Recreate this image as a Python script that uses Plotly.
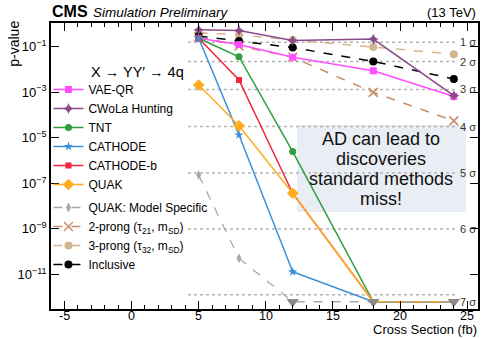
import math
import plotly.graph_objects as go

# ---------------- data ----------------
xs = [5, 8, 12, 18, 24]
FLOOR = 6.3e-13   # points at the plot floor (upper limits)

vae_qr    = [0.24, 0.126, 0.035, 8.9e-3, 6.6e-4]
cwola     = [0.56, 0.52, 0.19, 0.22, 7.2e-4]
tnt       = [0.24, 0.037, 2.5e-6, FLOOR, FLOOR]
cathode   = [0.24, 1.35e-5, 1.3e-11, FLOOR, FLOOR]
cathode_b = [0.24, 3.5e-3, 3.7e-8, FLOOR, FLOOR]
quak      = [2.1e-3, 3.4e-5, 3.7e-8, FLOOR, FLOOR]
quak_ms   = [2.3e-7, 5.1e-11, FLOOR, FLOOR, FLOOR]
prong2    = [0.28, 0.11, 0.035, 1.0e-3, 5.6e-5]
prong3    = [0.42, 0.34, 0.20, 0.10, 0.048]
inclusive = [0.30, 0.18, 0.093, 0.023, 3.9e-3]

sigma_labels = ["1 σ", "2 σ", "3 σ", "4 σ", "5 σ", "6 σ", "7 σ"]
sigma_p = [1.587e-1, 2.275e-2, 1.35e-3, 3.167e-5, 2.867e-7, 9.866e-10, 1.28e-12]
sigma_x = [4.2, 24.1]

x_ticks = [-5, 0, 5, 10, 15, 20, 25]
x_ticktext = ["-5", "0", "5", "10", "15", "20", "25"]
y_ticks = [1e-1, 1e-3, 1e-5, 1e-7, 1e-9, 1e-11]
y_ticktext = ["10<sup>−1</sup>", "10<sup>−3</sup>", "10<sup>−5</sup>",
              "10<sup>−7</sup>", "10<sup>−9</sup>", "10<sup>−11</sup>"]

box_lines = ["AD can lead to", "discoveries", "standard methods", "miss!"]

FONT = "Liberation Sans, Arial, sans-serif"
fig = go.Figure()

# sigma reference lines
for p in sigma_p:
    fig.add_trace(go.Scatter(x=sigma_x, y=[p, p], mode="lines",
                             line=dict(color="#b4b4b4", width=1.5, dash="dot"),
                             showlegend=False, hoverinfo="skip"))


def add_series(name, vals, col, sym, sz, dash, lg, rk, width=1.5):
    k = len([v for v in vals if v != FLOOR])
    # part with visible markers
    fig.add_trace(go.Scatter(
        x=xs[:k], y=vals[:k], mode="lines+markers", name=name,
        line=dict(color=col, width=width, dash=dash),
        marker=dict(color=col, symbol=sym, size=sz,
                    line=dict(color=col, width=1.5 if sym == "x-thin" else 0)),
        legend=lg, legendrank=rk))
    # continuation down to floor (limits)
    if k < len(vals):
        fig.add_trace(go.Scatter(
            x=xs[k - 1:], y=vals[k - 1:], mode="lines",
            line=dict(color=col, width=width, dash=dash),
            showlegend=False, hoverinfo="skip"))


add_series("3-prong (τ<sub>32</sub>, m<sub>SD</sub>)", prong3, "#d4b48e", "circle", 8, "dash", "legend2", 9)
add_series("2-prong (τ<sub>21</sub>, m<sub>SD</sub>)", prong2, "#c98e68", "x-thin", 9, "dash", "legend2", 8)
add_series("Inclusive", inclusive, "#000000", "circle", 8, "dash", "legend2", 10)
add_series("VAE-QR", vae_qr, "#ff4dff", "square", 7, "solid", "legend", 1)
add_series("CWoLa Hunting", cwola, "#8a4a8a", "star-diamond", 8, "solid", "legend", 2)
add_series("TNT", tnt, "#2f9e3a", "circle", 7, "solid", "legend", 3)
add_series("CATHODE-b", cathode_b, "#f0263a", "square", 6, "solid", "legend", 5)
add_series("CATHODE", cathode, "#3b8fd6", "star", 7, "solid", "legend", 4)
add_series("QUAK", quak, "#ffad1f", "diamond", 9, "solid", "legend", 6)
add_series("QUAK: Model Specific", quak_ms, "#a8a8a8", "diamond-tall", 7, "dash", "legend2", 7, width=1.3)

# upper-limit triangles at the floor
lim_x = [x for x, v in zip(xs, quak_ms) if v == FLOOR]
lim_y = [v for v in quak_ms if v == FLOOR]
fig.add_trace(go.Scatter(x=lim_x, y=lim_y, mode="markers",
                         marker=dict(color="#8a8a8a", symbol="triangle-down", size=11),
                         showlegend=False, hoverinfo="skip"))

# sigma labels
for lab, p in zip(sigma_labels, sigma_p):
    fig.add_annotation(x=24.42, y=math.log10(p), xref="x", yref="y", text=lab,
                       showarrow=False, xanchor="left", yanchor="middle",
                       yshift=-7 if lab == "7 σ" else 0, borderpad=0,
                       font=dict(size=11, color="#333333", family=FONT))

# message box
fig.add_shape(type="rect", xref="paper", yref="paper", x0=0.576, x1=0.972,
              y0=0.339, y1=0.643, fillcolor="#e9edf4", line=dict(width=0),
              layer="below")
for i, line in enumerate(box_lines):
    ypx = 139 + 20 * i
    fig.add_annotation(xref="paper", yref="paper", x=0.774, y=(309 - ypx) / 286,
                       text=line, showarrow=False, xanchor="center", yanchor="middle",
                       font=dict(size=18, color="#111111", family=FONT))

# legend header
fig.add_annotation(xref="paper", yref="paper", x=(89 - 51) / 429, y=(309 - 72) / 286,
                   text="X → YY′ → 4q", showarrow=False, xanchor="left",
                   yanchor="middle", font=dict(size=14.5, color="black", family=FONT))

# header texts
fig.add_annotation(xref="paper", yref="paper", x=0.0, y=1.0, yshift=2, borderpad=0,
                   text="<b>CMS</b>", showarrow=False, xanchor="left", yanchor="bottom",
                   font=dict(size=16, color="black", family=FONT))
fig.add_annotation(xref="paper", yref="paper", x=(92 - 51) / 429, y=1.0, yshift=2,
                   borderpad=0,
                   text="<i>Simulation Preliminary</i>", showarrow=False,
                   xanchor="left", yanchor="bottom",
                   font=dict(size=13.5, color="black", family=FONT))
fig.add_annotation(xref="paper", yref="paper", x=1.0, y=1.0, yshift=1,
                   text="(13 TeV)", showarrow=False, xanchor="right", yanchor="bottom",
                   font=dict(size=13, color="black", family=FONT))

# x tick labels
for v, t in zip(x_ticks, x_ticktext):
    fig.add_annotation(xref="x", yref="paper", x=v, y=(309 - 315.5) / 286,
                       text=t, showarrow=False, xanchor="center", yanchor="middle",
                       borderpad=0,
                       font=dict(size=12.5, color="black", family=FONT))

# axis titles
fig.add_annotation(xref="paper", yref="paper", x=-0.087, y=0.927,
                   text="p-value", textangle=-90, showarrow=False,
                   xanchor="center", yanchor="middle",
                   font=dict(size=14, color="black", family=FONT))
fig.add_annotation(xref="paper", yref="paper", x=1.0, y=(309 - 329.8) / 286,
                   text="Cross Section (fb)", showarrow=False, borderpad=0,
                   xanchor="right", yanchor="middle",
                   font=dict(size=13, color="black", family=FONT))

fig.update_layout(
    width=481, height=338,
    margin=dict(l=51, r=1, t=23, b=29),
    paper_bgcolor="white", plot_bgcolor="white",
    font=dict(family=FONT, size=13, color="black"),
    legend=dict(x=-0.006, y=(309 - 75) / 286, xanchor="left", yanchor="top",
                bgcolor="rgba(0,0,0,0)", font=dict(size=12), tracegroupgap=0),
    legend2=dict(x=-0.006, y=(309 - 193) / 286, xanchor="left", yanchor="top",
                 bgcolor="rgba(0,0,0,0)", font=dict(size=12)),
    showlegend=True,
)
fig.update_xaxes(range=[-6, 25.8], tickvals=x_ticks, showticklabels=False,
                 ticks="inside", ticklen=8,
                 tickwidth=1, tickcolor="black", showline=True, linecolor="black",
                 linewidth=1.5, mirror="ticks", showgrid=False, zeroline=False,
                 minor=dict(dtick=1, tick0=0, ticks="inside", ticklen=4,
                            tickcolor="black", showgrid=False))
fig.update_yaxes(type="log", range=[-12.52, 0.05], tickvals=y_ticks,
                 ticktext=y_ticktext, ticks="inside", ticklen=8, tickwidth=1,
                 tickcolor="black", showline=True, linecolor="black",
                 linewidth=1.5, mirror="ticks", showgrid=False, zeroline=False,
                 tickfont=dict(size=13))

fig.write_html("out.html")
